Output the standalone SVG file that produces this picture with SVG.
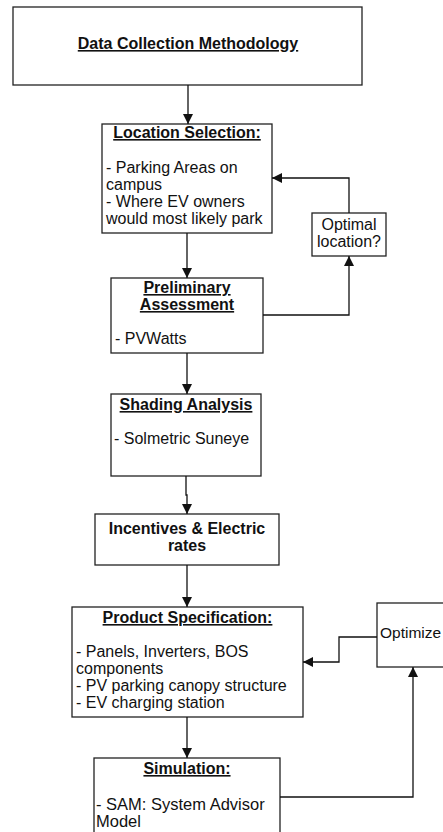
<svg xmlns="http://www.w3.org/2000/svg" width="443" height="832" viewBox="0 0 443 832">
<defs>
<marker id="ah" viewBox="0 0 10 10" refX="10" refY="5" markerWidth="10" markerHeight="10" markerUnits="userSpaceOnUse" orient="auto">
<path d="M0,0 L10,5 L0,10 z" fill="#111"/>
</marker>
<style>
.box{fill:#fff;stroke:#222;stroke-width:1.3}
.t{font-family:"Liberation Sans",Arial,sans-serif;font-size:16px;fill:#111}
.h{font-family:"Liberation Sans",Arial,sans-serif;font-size:16px;font-weight:bold;fill:#111;text-anchor:middle}
.u{text-decoration:underline}
.c{text-anchor:middle}
.ln{fill:none;stroke:#111;stroke-width:1.3}
</style>
</defs>
<rect width="443" height="832" fill="#fff"/>
<g id="n1"><rect class="box" x="13" y="7" width="349" height="78"/><text class="h u" x="188" y="49">Data Collection Methodology</text></g>
<g id="n2"><rect class="box" x="102" y="124" width="170" height="109"/>
<text class="h u" x="187" y="138">Location Selection:</text>
<text class="t" x="106" y="173">- Parking Areas on</text>
<text class="t" x="106" y="190">campus</text>
<text class="t" x="106" y="207">- Where EV owners</text>
<text class="t" x="106" y="224">would most likely park</text></g>
<g id="n3"><rect class="box" x="312" y="213" width="74" height="43"/>
<text class="t c" x="349" y="230">Optimal</text>
<text class="t c" x="349" y="247">location?</text></g>
<g id="n4"><rect class="box" x="111" y="278" width="152" height="75"/>
<text class="h u" x="187" y="293">Preliminary</text>
<text class="h u" x="187" y="310">Assessment</text>
<text class="t" x="115" y="344">- PVWatts</text></g>
<g id="n5"><rect class="box" x="111" y="394" width="150" height="82"/>
<text class="h u" x="186" y="410">Shading Analysis</text>
<text class="t" x="114" y="444">- Solmetric Suneye</text></g>
<g id="n6"><rect class="box" x="95" y="514" width="184" height="51"/>
<text class="h" x="187" y="534">Incentives &amp; Electric</text>
<text class="h" x="187" y="551">rates</text></g>
<g id="n7"><rect class="box" x="72" y="607" width="231" height="110"/>
<text class="h u" x="187.5" y="623">Product Specification:</text>
<text class="t" x="76" y="657">- Panels, Inverters, BOS</text>
<text class="t" x="76" y="674">components</text>
<text class="t" x="76" y="691">- PV parking canopy structure</text>
<text class="t" x="76" y="708">- EV charging station</text></g>
<g id="n8"><rect class="box" x="377" y="603" width="80" height="64"/>
<text class="t" x="380" y="638" style="font-size:15.5px">Optimize</text></g>
<g id="n9"><rect class="box" x="94" y="758" width="186" height="90"/>
<text class="h u" x="187" y="774">Simulation:</text>
<text class="t" x="96" y="810" style="font-size:16.5px">- SAM: System Advisor</text>
<text class="t" x="96" y="827" style="font-size:16.5px">Model</text></g>
<g id="connectors">
<path class="ln" d="M188,85 V124" marker-end="url(#ah)"/>
<path class="ln" d="M349,213 V178 H272" marker-end="url(#ah)"/>
<path class="ln" d="M187,233 V278" marker-end="url(#ah)"/>
<path class="ln" d="M263,315 H349 V256" marker-end="url(#ah)"/>
<path class="ln" d="M187,353 V394" marker-end="url(#ah)"/>
<path class="ln" d="M186,476 V495 H187 V514" marker-end="url(#ah)"/>
<path class="ln" d="M187,565 V607" marker-end="url(#ah)"/>
<path class="ln" d="M377,637 H339 V662 H303" marker-end="url(#ah)"/>
<path class="ln" d="M187,717 V758" marker-end="url(#ah)"/>
<path class="ln" d="M280,797 H413 V667" marker-end="url(#ah)"/>
</g>
</svg>
